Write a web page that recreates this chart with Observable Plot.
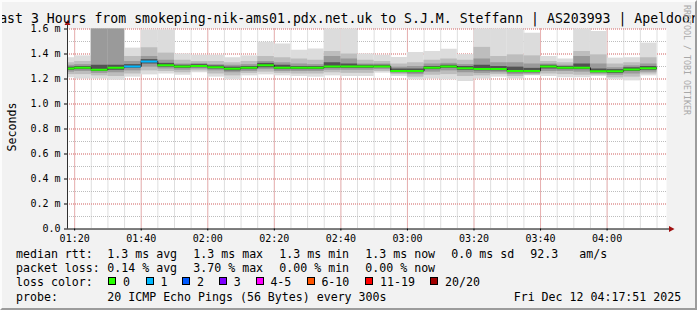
<!DOCTYPE html>
<html><head><meta charset="utf-8">
<script src="https://cdn.jsdelivr.net/npm/d3@7"></script>
<script src="https://cdn.jsdelivr.net/npm/@observablehq/plot@0.6"></script>
<style>
html,body{margin:0;padding:0;background:#f2f2f2;}
#wrap{position:relative;width:697px;height:310px;overflow:hidden;background:#f2f2f2;font-family:"DejaVu Sans Mono",monospace;color:#000;}
#chart{position:absolute;left:0;top:0;}
.t{position:absolute;white-space:pre;font-size:11.6px;line-height:14px;}
#title{position:absolute;left:348.5px;top:11.4px;transform:translateX(-50%);white-space:pre;font-size:13.2px;line-height:16px;}
#ylab{position:absolute;left:12.7px;top:127px;transform:translate(-50%,-50%) rotate(-90deg);white-space:pre;font-size:11.6px;line-height:11.6px;}
#rrd{position:absolute;left:687px;top:60px;transform:translate(-50%,-50%) rotate(90deg);white-space:pre;font-size:8.3px;line-height:8.3px;color:#a8a8a8;}
.box{position:absolute;width:8px;height:8px;box-sizing:border-box;border:1px solid #000;}
#frame{position:absolute;left:0;top:0;width:697px;height:310px;box-sizing:border-box;border-top:2px solid #fcfcfc;border-left:2px solid #fcfcfc;border-right:2px solid #9c9c9c;border-bottom:2px solid #9c9c9c;pointer-events:none;}
</style></head>
<body>
<div id="wrap">
  <div id="chart"></div>
  <div id="title"></div>
  <div id="ylab"></div>
  <div id="rrd"></div>
  <div id="legend"></div>
  <div id="frame"></div>
</div>
<script>
// ---------- data ----------
const titleText = "Last 3 Hours from smokeping-nik-ams01.pdx.net.uk to S.J.M. Steffann | AS203993 | Apeldoorn";
const yAxisLabel = "Seconds";
const creditText = "RRDTOOL / TOBI OETIKER";
const domainStart = "2025-12-12T01:17:51Z";
const domainEnd = "2025-12-12T04:17:51Z";
const firstBarStart = "2025-12-12T01:15:00Z";
const stepMinutes = 5;
const xTickLabels = ["01:20","01:40","02:00","02:20","02:40","03:00","03:20","03:40","04:00"];
const yTickLabels = ["0.0","0.2 m","0.4 m","0.6 m","0.8 m","1.0 m","1.2 m","1.4 m","1.6 m"];
const yTickValues = [0,0.2,0.4,0.6,0.8,1.0,1.2,1.4,1.6];

// ping rtt (ms) per 5-minute step: outer (min/max) to inner quantile pairs, and median
const hi1 = [1.37,1.385,1.75,1.75,1.447,1.593,1.593,1.40,1.39,1.39,1.37,1.385,1.494,1.48,1.43,1.44,1.75,1.75,1.40,1.39,1.372,1.412,1.42,1.438,1.395,1.75,1.75,1.75,1.566,1.38,1.36,1.75,1.58,1.367,1.37,1.487];
const hi2 = [1.33,1.34,1.75,1.75,1.38,1.45,1.407,1.35,1.34,1.34,1.33,1.34,1.38,1.37,1.36,1.35,1.42,1.40,1.35,1.34,1.32,1.33,1.35,1.36,1.35,1.453,1.38,1.393,1.385,1.34,1.33,1.42,1.393,1.32,1.33,1.37];
const hi3 = [1.31,1.315,1.75,1.75,1.34,1.38,1.35,1.32,1.325,1.315,1.31,1.315,1.34,1.33,1.32,1.315,1.38,1.36,1.32,1.32,1.295,1.30,1.32,1.325,1.315,1.36,1.33,1.33,1.32,1.32,1.31,1.38,1.32,1.29,1.305,1.32];
const hi4 = [1.295,1.30,1.31,1.31,1.315,1.355,1.325,1.31,1.315,1.305,1.295,1.30,1.325,1.31,1.30,1.30,1.33,1.32,1.31,1.31,1.28,1.28,1.30,1.31,1.30,1.31,1.30,1.295,1.285,1.31,1.30,1.32,1.28,1.275,1.29,1.30];
const median = [1.285,1.29,1.275,1.29,1.30,1.34,1.31,1.30,1.305,1.295,1.283,1.29,1.31,1.29,1.29,1.29,1.30,1.30,1.30,1.30,1.265,1.265,1.29,1.30,1.287,1.28,1.28,1.265,1.265,1.30,1.29,1.29,1.262,1.262,1.277,1.287];
const lo4 = [1.27,1.275,1.26,1.27,1.285,1.32,1.295,1.285,1.29,1.28,1.265,1.275,1.29,1.275,1.275,1.275,1.285,1.285,1.285,1.29,1.255,1.25,1.275,1.285,1.27,1.265,1.265,1.25,1.25,1.28,1.275,1.275,1.25,1.245,1.26,1.27];
const lo3 = [1.255,1.26,1.245,1.25,1.265,1.295,1.28,1.27,1.28,1.265,1.25,1.26,1.275,1.26,1.26,1.26,1.27,1.27,1.27,1.275,1.245,1.235,1.255,1.265,1.25,1.245,1.25,1.235,1.24,1.26,1.26,1.255,1.24,1.23,1.24,1.255];
const lo2 = [1.235,1.235,1.225,1.22,1.24,1.265,1.26,1.25,1.265,1.24,1.225,1.245,1.255,1.245,1.24,1.24,1.25,1.245,1.245,1.26,1.235,1.215,1.23,1.235,1.22,1.225,1.235,1.22,1.23,1.24,1.235,1.23,1.23,1.21,1.215,1.24];
const lo1 = [1.21,1.20,1.20,1.19,1.215,1.233,1.24,1.23,1.25,1.215,1.193,1.225,1.233,1.225,1.22,1.215,1.225,1.22,1.22,1.247,1.22,1.193,1.20,1.193,1.18,1.20,1.215,1.20,1.225,1.22,1.21,1.21,1.22,1.193,1.185,1.225];
const lossIndex = [0,0,0,0,1,1,0,0,0,0,0,0,0,0,0,0,0,0,0,0,0,0,0,0,0,0,0,0,0,0,0,0,0,0,0,0];

const lossLabels = ["0","1","2","3","4-5","6-10","11-19","20/20"];
const lossColors = ["#26ff00","#00b8ff","#0059ff","#7e00ff","#ff00ff","#ff5500","#ff0000","#a00000"];

const rttStats = ["1.3 ms avg","1.3 ms max","1.3 ms min","1.3 ms now","0.0 ms sd","92.3","am/s"];
const lossStats = ["0.14 % avg","3.70 % max","0.00 % min","0.00 % now"];
const rowLabels = ["median rtt:","packet loss:","loss color:","probe:"];
const probeText = "20 ICMP Echo Pings (56 Bytes) every 300s";
const dateText = "Fri Dec 12 04:17:51 2025";

(function () {
  // ---------- build table ----------
  const t0 = new Date(domainStart), t1 = new Date(domainEnd);
  const b0 = new Date(firstBarStart);
  const rows = median.map((m, i) => {
    const start = d3.utcMinute.offset(b0, i * stepMinutes);
    return {start, end: d3.utcMinute.offset(start, stepMinutes),
      hi1: hi1[i], hi2: hi2[i], hi3: hi3[i], hi4: hi4[i], med: m,
      lo4: lo4[i], lo3: lo3[i], lo2: lo2[i], lo1: lo1[i],
      color: lossColors[lossIndex[i]]};
  });
  const stepPts = rows.map(r => ({t: r.start, v: r.med}));
  stepPts.push({t: rows[rows.length - 1].end, v: rows[rows.length - 1].med});

  const dayStr = domainStart.slice(0, 11);
  const xTicks = xTickLabels.map(s => new Date(dayStr + s + ":00Z"));
  const minorX = d3.utcMinute.every(5).range(t0, t1);
  const minorY = d3.range(1, 17).map(i => i / 10);
  const majorY = yTickValues.filter(v => v > 0);

  const layerColors = ["#dcdcdc", "#bdbdbd", "#9a9a9a", "#525252"];

  const chart = Plot.plot({
    width: 697, height: 245,
    marginLeft: 67, marginRight: 31, marginTop: 28.5, marginBottom: 16.5,
    style: {background: "transparent", fontFamily: "'DejaVu Sans Mono', monospace", fontSize: "10px", color: "#000", overflow: "visible"},
    x: {type: "utc", domain: [t0, t1]},
    y: {domain: [0, 1.6]},
    color: {type: "identity"},
    marks: [
      Plot.frame({fill: "#ffffff", stroke: null}),
      Plot.gridX(minorX, {stroke: "#bdbdbd", strokeOpacity: 1, strokeDasharray: "1,1"}),
      Plot.gridY(minorY, {stroke: "#bdbdbd", strokeOpacity: 1, strokeDasharray: "1,1"}),
      Plot.gridX(xTicks, {stroke: "#f08080", strokeOpacity: 1, strokeDasharray: "1,1"}),
      Plot.gridY(majorY, {stroke: "#f08080", strokeOpacity: 1, strokeDasharray: "1,1"}),
      Plot.rect(rows, {x1: "start", x2: "end", y1: "lo1", y2: "hi1", fill: layerColors[0], clip: true}),
      Plot.rect(rows, {x1: "start", x2: "end", y1: "lo2", y2: "hi2", fill: layerColors[1], clip: true}),
      Plot.rect(rows, {x1: "start", x2: "end", y1: "lo3", y2: "hi3", fill: layerColors[2], clip: true}),
      Plot.rect(rows, {x1: "start", x2: "end", y1: "lo4", y2: "hi4", fill: layerColors[3], clip: true}),
      Plot.line(stepPts, {x: "t", y: "v", curve: "step-after", stroke: "#202020", strokeWidth: 1, clip: true}),
      Plot.ruleY(rows, {x1: "start", x2: "end", y: "med", stroke: "color", strokeWidth: 2, clip: true}),
      Plot.axisX(xTicks, {tickFormat: d3.utcFormat("%H:%M"), tickSize: 2, tickPadding: 3.5, label: null}),
      Plot.axisY(yTickValues, {tickFormat: d => yTickLabels[yTickValues.indexOf(d)], tickSize: 3, tickPadding: 4, label: null})
    ]
  });
  document.getElementById("chart").appendChild(chart);

  // axis lines with arrows (decoration)
  const svg = d3.select(chart);
  const xs = chart.scale("x"), ys = chart.scale("y");
  const xL = xs.apply(t0), xR = xs.apply(t1);
  const yB = ys.apply(0), yT = ys.apply(1.6);
  const g = svg.append("g");
  g.append("line").attr("x1", xL + 0.5).attr("x2", xL + 0.5).attr("y1", yB).attr("y2", yT - 7)
    .attr("stroke", "#303030").attr("stroke-width", 1);
  g.append("line").attr("x1", xL).attr("x2", xR + 6).attr("y1", yB + 0.5).attr("y2", yB + 0.5)
    .attr("stroke", "#000").attr("stroke-width", 1);
  g.append("path").attr("d", `M${xL - 2.5},${yT - 3.5}L${xL + 0.5},${yT - 8.5}L${xL + 3.5},${yT - 3.5}Z`).attr("fill", "#a01010");
  g.append("path").attr("d", `M${xR + 3},${yB - 2.5}L${xR + 8.5},${yB + 0.5}L${xR + 3},${yB + 3.5}Z`).attr("fill", "#a01010");

  // ---------- texts ----------
  document.getElementById("title").textContent = titleText;
  document.getElementById("ylab").textContent = yAxisLabel;
  document.getElementById("rrd").textContent = creditText;

  const legend = document.getElementById("legend");
  function addText(txt, x, y) {
    const d = document.createElement("div");
    d.className = "t"; d.textContent = txt;
    d.style.left = x + "px"; d.style.top = y + "px";
    legend.appendChild(d);
  }
  const rowTops = [247.3, 261.3, 275.3, 289.5];
  const labelX = 16;
  rowLabels.forEach((s, i) => addText(s, labelX, rowTops[i]));
  const statX = [107.3, 193.3, 279.3, 365.3, 451.3, 530.3, 579.3];
  rttStats.forEach((s, i) => addText(s, statX[i], rowTops[0]));
  lossStats.forEach((s, i) => addText(s, statX[i], rowTops[1]));
  const boxX = [108.3, 145.7, 182.3, 219, 255.7, 306.7, 365.3, 430.3];
  lossLabels.forEach((s, i) => {
    const b = document.createElement("div");
    b.className = "box"; b.style.left = boxX[i] + "px"; b.style.top = "277.3px";
    b.style.background = lossColors[i];
    legend.appendChild(b);
    addText(s, boxX[i] + 14.7, rowTops[2]);
  });
  addText(probeText, 107.3, rowTops[3]);
  addText(dateText, 513.7, rowTops[3]);
})();
</script>
</body></html>
